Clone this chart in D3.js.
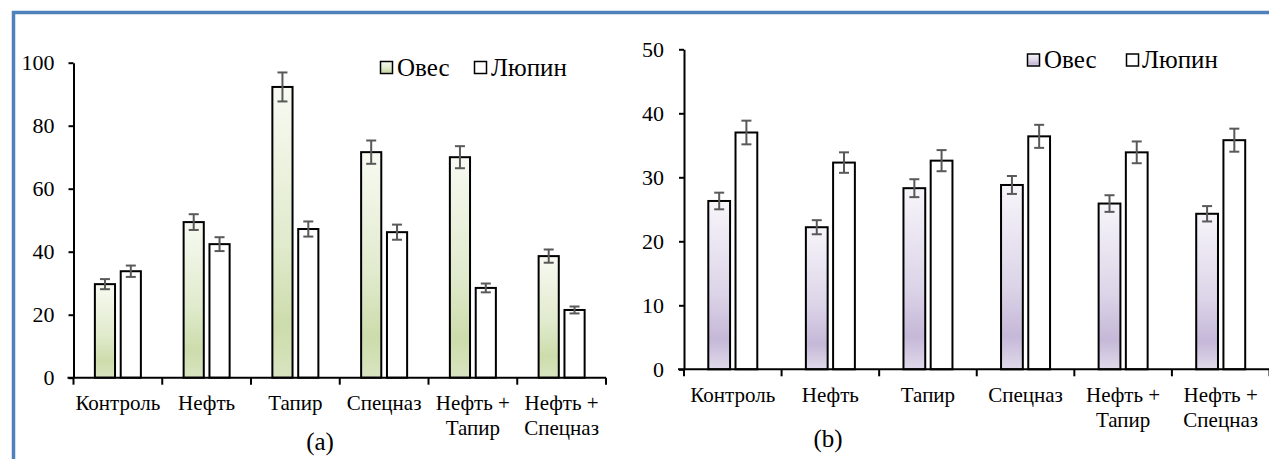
<!DOCTYPE html>
<html><head><meta charset="utf-8">
<script src="https://cdn.jsdelivr.net/npm/d3@7"></script>
<style>
html,body{margin:0;padding:0;background:#fff;}
svg{display:block;}
svg text{font-family:"Liberation Serif","Times New Roman","DejaVu Serif",serif !important;fill:#000;}
</style></head>
<body>
<svg id="chart" width="1269" height="459"></svg>
<script>
const categories = ["Контроль","Нефть","Тапир","Спецназ","Нефть +\nТапир","Нефть +\nСпецназ"];
const seriesNames = ["Овес","Люпин"];
// Panel (a)
const oatA = [29.7, 49.4, 92.3, 71.6, 70.0, 38.6];
const oatAErr = [1.6, 2.5, 4.6, 3.7, 3.5, 2.1];
const lupinA = [33.8, 42.4, 47.2, 46.2, 28.5, 21.5];
const lupinAErr = [1.8, 2.2, 2.4, 2.4, 1.4, 1.1];
const ticksA = [0, 20, 40, 60, 80, 100];
// Panel (b)
const oatB = [26.3, 22.2, 28.3, 28.8, 25.9, 24.3];
const oatBErr = [1.3, 1.1, 1.4, 1.4, 1.3, 1.2];
const lupinB = [37.0, 32.3, 32.6, 36.4, 33.9, 35.8];
const lupinBErr = [1.85, 1.6, 1.65, 1.8, 1.7, 1.8];
const ticksB = [0, 10, 20, 30, 40, 50];

const FONT = '"Liberation Serif", "Times New Roman", "DejaVu Serif", serif';
const svg = d3.select("#chart");
const defs = svg.append("defs");
function grad(id, light, mid, dark, bottom){
  const g = defs.append("linearGradient").attr("id", id).attr("x1",0).attr("y1",0).attr("x2",0).attr("y2",1);
  g.append("stop").attr("offset","0%").attr("stop-color",light);
  g.append("stop").attr("offset","55%").attr("stop-color",mid);
  g.append("stop").attr("offset","82%").attr("stop-color",dark);
  g.append("stop").attr("offset","100%").attr("stop-color",bottom);
}
grad("gGreen", "#f8faf2", "#e0eacc", "#cddcab", "#d8e4c0");
grad("gPurple", "#f7f5fa", "#dcd4e8", "#c5b8d8", "#e0d9ea");

// blue frame
svg.append("path").attr("d","M13.5,459 V12.5 H1269").attr("fill","none")
  .attr("stroke","#4f81bd").attr("stroke-width",3.5);

function panel(cfg){
  const g = svg.append("g");
  const x = d3.scaleBand().domain(categories).range([cfg.x0, cfg.x1]).paddingInner(0).paddingOuter(0);
  const y = d3.scaleLinear().domain([0, cfg.max]).range([cfg.y0, cfg.yTop]);
  const half = cfg.half;
  const xs = d3.scaleBand().domain(seriesNames).range([x.bandwidth()/2 - half, x.bandwidth()/2 + half]).paddingInner(cfg.inner);

  // y axis
  const ya = g.append("g").attr("transform", `translate(${cfg.x0},0)`)
    .call(d3.axisLeft(y).tickValues(cfg.ticks).tickSize(5).tickPadding(cfg.tickPad).tickSizeOuter(0));
  ya.attr("font-family", FONT);
  ya.select(".domain").attr("stroke","#000").attr("stroke-width",2);
  ya.selectAll(".tick line").attr("stroke","#000").attr("stroke-width",2);
  ya.selectAll(".tick text").attr("font-size", cfg.tickFont).style("font-family", FONT).attr("fill","#000");

  const series = [
    {name:"Овес", vals:cfg.oat, errs:cfg.oatErr, fill:`url(#${cfg.gradId})`},
    {name:"Люпин", vals:cfg.lupin, errs:cfg.lupinErr, fill:"#fff"}
  ];
  series.forEach(s => {
    const data = categories.map((c,i)=>({c, v:s.vals[i], e:s.errs[i]}));
    g.selectAll(null).data(data).enter().append("rect")
      .attr("x", d => x(d.c) + xs(s.name))
      .attr("y", d => y(d.v))
      .attr("width", xs.bandwidth())
      .attr("height", d => y(0) - y(d.v))
      .attr("fill", s.fill).attr("stroke","#000").attr("stroke-width",2);
    const eg = g.selectAll(null).data(data).enter().append("g")
      .attr("stroke","#595959").attr("stroke-width",2);
    const cx = d => x(d.c) + xs(s.name) + xs.bandwidth()/2;
    eg.append("line").attr("x1",cx).attr("x2",cx).attr("y1",d=>y(d.v+d.e)).attr("y2",d=>y(d.v-d.e));
    eg.append("line").attr("x1",d=>cx(d)-5).attr("x2",d=>cx(d)+5).attr("y1",d=>y(d.v+d.e)).attr("y2",d=>y(d.v+d.e));
    eg.append("line").attr("x1",d=>cx(d)-5).attr("x2",d=>cx(d)+5).attr("y1",d=>y(d.v-d.e)).attr("y2",d=>y(d.v-d.e));
  });

  // x axis
  const xa = g.append("g");
  xa.append("line").attr("x1", cfg.x0 - 6).attr("x2", cfg.x1).attr("y1",cfg.y0).attr("y2",cfg.y0)
    .attr("stroke","#000").attr("stroke-width",2);
  const bounds = categories.map(c => x(c)).concat([cfg.x1]);
  xa.selectAll(null).data(bounds).enter().append("line")
    .attr("x1", d=>d).attr("x2", d=>d).attr("y1",cfg.y0).attr("y2",cfg.y0+7)
    .attr("stroke","#000").attr("stroke-width",2);
  categories.forEach(c => {
    const lines = c.split("\n");
    const cxp = x(c) + x.bandwidth()/2;
    const t = xa.append("text").attr("text-anchor","middle").attr("font-size", cfg.catFont)
      .style("font-family", FONT).attr("x", cxp).attr("y", cfg.labelY);
    lines.forEach((l,i)=> t.append("tspan").attr("x", cxp).attr("dy", i===0?0:cfg.lineH).text(l));
  });

  // legend
  const lg = g.append("g");
  cfg.legend.forEach((L,i) => {
    lg.append("rect").attr("x", L.sx).attr("y", cfg.legY - 14).attr("width", 12).attr("height", 12)
      .attr("fill", i===0 ? `url(#${cfg.gradId})` : "#fff").attr("stroke","#000").attr("stroke-width",1.5);
    lg.append("text").attr("x", L.tx).attr("y", cfg.legY).attr("font-size", 25)
      .style("font-family", FONT).text(seriesNames[i]);
  });

  svg.append("text").attr("x", cfg.capX).attr("y", cfg.capY).attr("text-anchor","middle")
    .attr("font-size", 25).style("font-family", FONT).text(cfg.caption);
}

panel({x0:73.5, x1:606, y0:377.7, yTop:62.7, max:100, ticks:ticksA, half:23, inner:0.22,
  oat:oatA, oatErr:oatAErr, lupin:lupinA, lupinErr:lupinAErr, gradId:"gGreen",
  tickFont:22, tickPad:14, catFont:21, labelY:410, lineH:24.5,
  legY:75.5, legend:[{sx:380.5, tx:397},{sx:474.5, tx:491}], capX:320, capY:450, caption:"(a)"});

panel({x0:684, x1:1269.5, y0:369.3, yTop:49.3, max:50, ticks:ticksB, half:24.5, inner:0.2,
  oat:oatB, oatErr:oatBErr, lupin:lupinB, lupinErr:lupinBErr, gradId:"gPurple",
  tickFont:22, tickPad:15, catFont:21, labelY:402, lineH:25,
  legY:68, legend:[{sx:1027.5, tx:1044},{sx:1126.5, tx:1142}], capX:828, capY:447, caption:"(b)"});
</script>
</body></html>
